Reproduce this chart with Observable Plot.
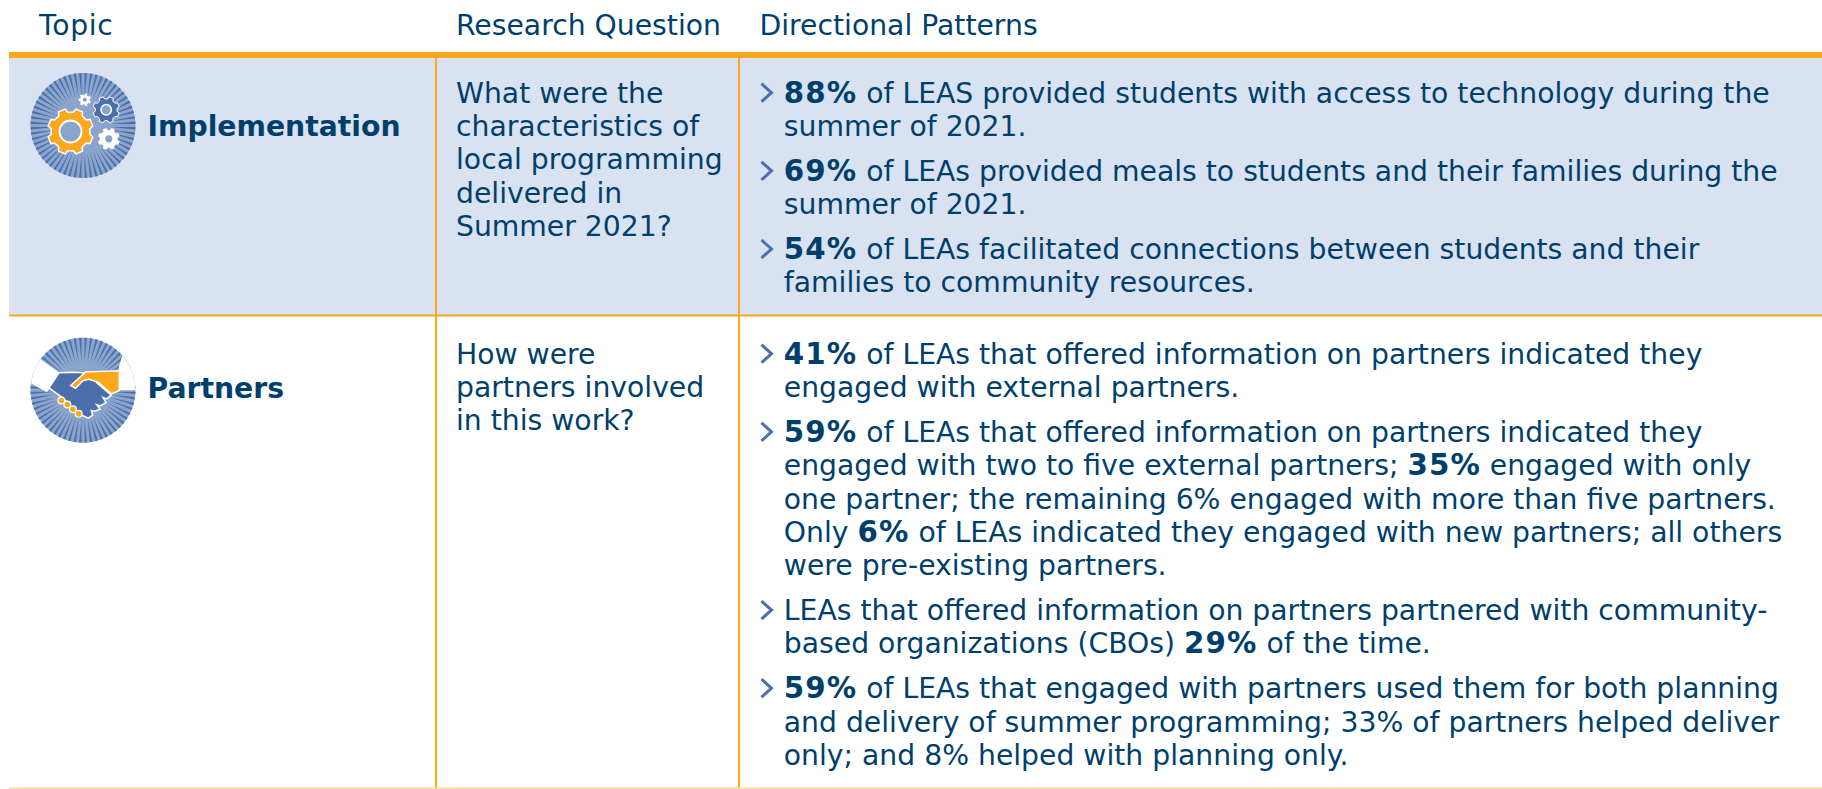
<!DOCTYPE html>
<html>
<head>
<meta charset="utf-8">
<style>html,body{margin:0;padding:0;background:#fff}svg{display:block}</style>
<script src="https://cdn.jsdelivr.net/npm/d3@7"></script>
<script src="https://cdn.jsdelivr.net/npm/@observablehq/plot@0.6"></script>
</head>
<body>
<div id="chart"></div>
<script>
// ---------- content ----------
const headers = ["Topic", "Research Question", "Directional Patterns"];
const topics = ["Implementation", "Partners"];
const questions = [
  ["What were the", "characteristics of", "local programming", "delivered in", "Summer 2021?"],
  ["How were", "partners involved", "in this work?"]
];
// one entry per bullet; ** marks bold runs
const patterns = [
  [
    ["**88%** of LEAS provided students with access to technology during the", "summer of 2021."],
    ["**69%** of LEAs provided meals to students and their families during the", "summer of 2021."],
    ["**54%** of LEAs facilitated connections between students and their", "families to community resources."]
  ],
  [
    ["**41%** of LEAs that offered information on partners indicated they", "engaged with external partners."],
    ["**59%** of LEAs that offered information on partners indicated they",
     "engaged with two to five external partners; **35%** engaged with only",
     "one partner; the remaining 6% engaged with more than five partners.",
     "Only **6%** of LEAs indicated they engaged with new partners; all others",
     "were pre-existing partners."],
    ["LEAs that offered information on partners partnered with community-",
     "based organizations (CBOs) **29%** of the time."],
    ["**59%** of LEAs that engaged with partners used them for both planning",
     "and delivery of summer programming; 33% of partners helped deliver",
     "only; and 8% helped with planning only."]
  ]
];

// ---------- layout ----------
const W = 1822, H = 789;
const navy = "#003f6c", orange = "#fca81c", band = "#d9e2f1", rayDark = "#4a6fab", rayLight = "#8ba4cc";
const font = "'DejaVu Sans'", fs = 28.25;
const left = 9, col1 = 436, col2 = 739, ruleTop = 52, ruleBot = 58, sep = 315.5;
const headerX = [38.5, 455.5, 759], headerY = 34;
const topicX = 147, topicY = [135, 397];
const qTop = [102.2, 363.2], lineH = 33.35, paraGap = 44.8;
const pX = 783.3, chevX = 766.5;
const iconX = 82.5, iconY = [125, 389.7];

const headerRows = headers.map((t, i) => ({t, x: headerX[i], y: headerY}));
const topicRows = topics.map((t, i) => ({t, x: topicX, y: topicY[i]}));
const qRows = questions.flatMap((ls, r) => ls.map((t, i) => ({t, x: headerX[1], y: qTop[r] + i * lineH})));
const pRows = [], chevs = [];
patterns.forEach((bullets, r) => {
  let y = qTop[r];
  bullets.forEach(lines => {
    chevs.push({x: chevX, y: y - 10});
    lines.forEach((t, i) => {
      pRows.push({t, x: pX, y});
      y += i < lines.length - 1 ? lineH : paraGap;
    });
  });
});

// ---------- icon symbols ----------
const sym = draw => ({draw});
const poly = pts => sym(c => {
  pts.forEach(([x, y], i) => i ? c.lineTo(x, y) : c.moveTo(x, y));
  c.closePath();
});
// zoomed-reference units (3 per pixel) about the icon's centre
const hs = pts => poly(pts.map(([x, y]) => [(x - 187) / 3, (y - 179) / 3]));
const rays = (R, r0, n) => sym(c => {
  for (let i = 0; i < n; i++) {
    const a = (i + 0.5) * 2 * Math.PI / n, w = 0.42 * Math.PI / n;
    c.moveTo(r0 * Math.cos(a), r0 * Math.sin(a));
    c.lineTo(R * Math.cos(a - w), R * Math.sin(a - w));
    c.lineTo(R * Math.cos(a + w), R * Math.sin(a + w));
    c.closePath();
  }
});
const gear = (R, root, teeth) => sym(c => {
  const st = 2 * Math.PI / teeth;
  for (let i = 0; i < teeth; i++) {
    const a = i * st + st / 2;
    const p = [[root, a - st * 0.32], [R, a - st * 0.2], [R, a + st * 0.2], [root, a + st * 0.32]];
    p.forEach(([r, t], j) => {
      const x = r * Math.cos(t), y = r * Math.sin(t);
      (i === 0 && j === 0) ? c.moveTo(x, y) : c.lineTo(x, y);
    });
  }
  c.closePath();
});
const sleeveL = sym(c => {
  const R = 52.5, c0 = Math.atan2(-91, -125) + 2 * Math.PI, c1 = Math.atan2(-21, -155) + 2 * Math.PI;
  c.moveTo(R * Math.cos(c0), R * Math.sin(c0));
  c.lineTo(-24, -18);
  c.lineTo(-36, 2);
  c.lineTo(R * Math.cos(c1), R * Math.sin(c1));
  c.arc(0, 0, R, c1, c0, false);
  c.closePath();
});
const sleeveR = sym(c => {
  const R = 52.5, a0 = -0.72, a1 = 0.0;
  c.moveTo(36, -24);
  c.lineTo(R * Math.cos(a0), R * Math.sin(a0));
  c.arc(0, 0, R, a0, a1, false);
  c.lineTo(36, 0);
  c.closePath();
});
const blueHand = hs([[115,127],[165,125],[200,128],[232,160],[272,194],[258,205],[247,201],[256,216],[238,226],[228,222],[238,236],[222,242],[212,240],[216,254],[203,263],[185,255],[165,245],[130,205],[85,172]]);
const orangeHand = hs([[150,165],[195,124],[296,121],[296,180],[272,190],[232,155],[205,146],[186,151],[165,173]]);

const icon1 = [{x: iconX, y: iconY[0]}], icon2 = [{x: iconX, y: iconY[1]}];
const rel = (base, dx, dy) => [{x: base[0].x + dx, y: base[0].y + dy}];
const knuckles = [[122,210],[140,222],[157,236],[174,250]].map(([x, y]) => ({x: iconX + (x - 187) / 3, y: iconY[1] + (y - 179) / 3}));

// ---------- bold runs ----------
function boldRuns(index, scales, values, dims, ctx, next) {
  const g = next(index, scales, values, dims, ctx);
  d3.select(g).selectAll("text").each(function() {
    const parts = this.textContent.split("**");
    if (parts.length < 2) return;
    const sel = d3.select(this);
    sel.text(null);
    parts.forEach((p, i) => {
      if (!p) return;
      const ts = sel.append("tspan").text(p);
      if (i % 2) ts.attr("font-weight", "700").attr("font-size", 29.3).attr("letter-spacing", "1.1px");
    });
  });
  return g;
}
function widerTopic(index, scales, values, dims, ctx, next) {
  const g = next(index, scales, values, dims, ctx);
  d3.select(g).selectAll("text").filter(function() { return this.textContent === headers[0]; }).attr("letter-spacing", "0.7px");
  return g;
}
const label = (rows, extra = {}) => Plot.text(rows, {
  x: "x", y: "y", text: "t", textAnchor: "start", lineAnchor: "bottom",
  fill: navy, fontSize: fs, fontFamily: font, render: boldRuns, ...extra
});

const hRect = (x1, x2, y1, y2, fill) => Plot.rect([{x1, x2, y1, y2}], {x1: "x1", x2: "x2", y1: "y1", y2: "y2", fill});

const chart = Plot.plot({
  width: W, height: H, margin: 0,
  style: {background: "#fff", fontFamily: font},
  x: {domain: [0, W], range: [0, W], axis: null},
  y: {domain: [0, H], range: [0, H], axis: null},
  marks: [
    hRect(left, W, ruleBot, sep, band),
    hRect(left, W, ruleTop, ruleBot, orange),
    hRect(left, W, sep - 1, sep + 1, orange),
    hRect(col1 - 1, col1 + 1, ruleTop, H, orange),
    hRect(col2 - 1, col2 + 1, ruleTop, H, orange),
    hRect(left, W, H - 1.5, H, "#fdd999"),

    label(headerRows, {render: widerTopic}),
    label(topicRows, {fontWeight: 700}),
    label(qRows),
    label(pRows),
    Plot.dot(chevs, {x: "x", y: "y", r: 5, stroke: rayDark, strokeWidth: 3, fill: "none",
      symbol: poly([[-5.5, -9], [4.5, 0], [-5.5, 9], [4.5, 0]])}),

    // Implementation icon
    Plot.dot(icon1, {x: "x", y: "y", r: 52.5, fill: rayLight}),
    Plot.dot(icon1, {x: "x", y: "y", r: 5, fill: rayDark, symbol: rays(52.5, 28, 60)}),
    Plot.dot(rel(icon1, -12.5, 6), {x: "x", y: "y", r: 5, fill: orange, stroke: "#fff", strokeWidth: 1.5, symbol: gear(23, 19.5, 8)}),
    Plot.dot(rel(icon1, -12.5, 6), {x: "x", y: "y", r: 11, fill: rayLight, stroke: "#fff", strokeWidth: 1.8}),
    Plot.dot(rel(icon1, 23.2, -15.7), {x: "x", y: "y", r: 5, fill: rayDark, stroke: "#fff", strokeWidth: 1, symbol: gear(13.4, 11, 8)}),
    Plot.dot(rel(icon1, 23.2, -15.7), {x: "x", y: "y", r: 5.2, fill: rayLight, stroke: "#fff", strokeWidth: 1.5}),
    Plot.dot(rel(icon1, 25.8, 13.3), {x: "x", y: "y", r: 5, fill: "#fff", symbol: gear(11.2, 9, 8)}),
    Plot.dot(rel(icon1, 25.8, 13.3), {x: "x", y: "y", r: 3.6, fill: rayLight}),
    Plot.dot(rel(icon1, 1.8, -25.7), {x: "x", y: "y", r: 5, fill: "#fff", symbol: gear(6.4, 4.8, 7)}),
    Plot.dot(rel(icon1, 1.8, -25.7), {x: "x", y: "y", r: 2, fill: rayLight}),

    // Partners icon
    Plot.dot(icon2, {x: "x", y: "y", r: 52.5, fill: rayLight}),
    Plot.dot(icon2, {x: "x", y: "y", r: 5, fill: rayDark, symbol: rays(52.5, 28, 60)}),
    Plot.dot(icon2, {x: "x", y: "y", r: 5, fill: "#fff", symbol: sleeveL}),
    Plot.dot(icon2, {x: "x", y: "y", r: 5, fill: "#fff", symbol: sleeveR}),
    Plot.dot(icon2, {x: "x", y: "y", r: 5, fill: rayDark, stroke: "#fff", strokeWidth: 1.5, symbol: blueHand}),
    Plot.dot(icon2, {x: "x", y: "y", r: 5, fill: orange, stroke: "#fff", strokeWidth: 1.5, symbol: orangeHand}),
    Plot.dot(knuckles, {x: "x", y: "y", r: 3.4, fill: orange, stroke: "#fff", strokeWidth: 1.2})
  ]
});
document.getElementById("chart").appendChild(chart);
</script>
</body>
</html>
